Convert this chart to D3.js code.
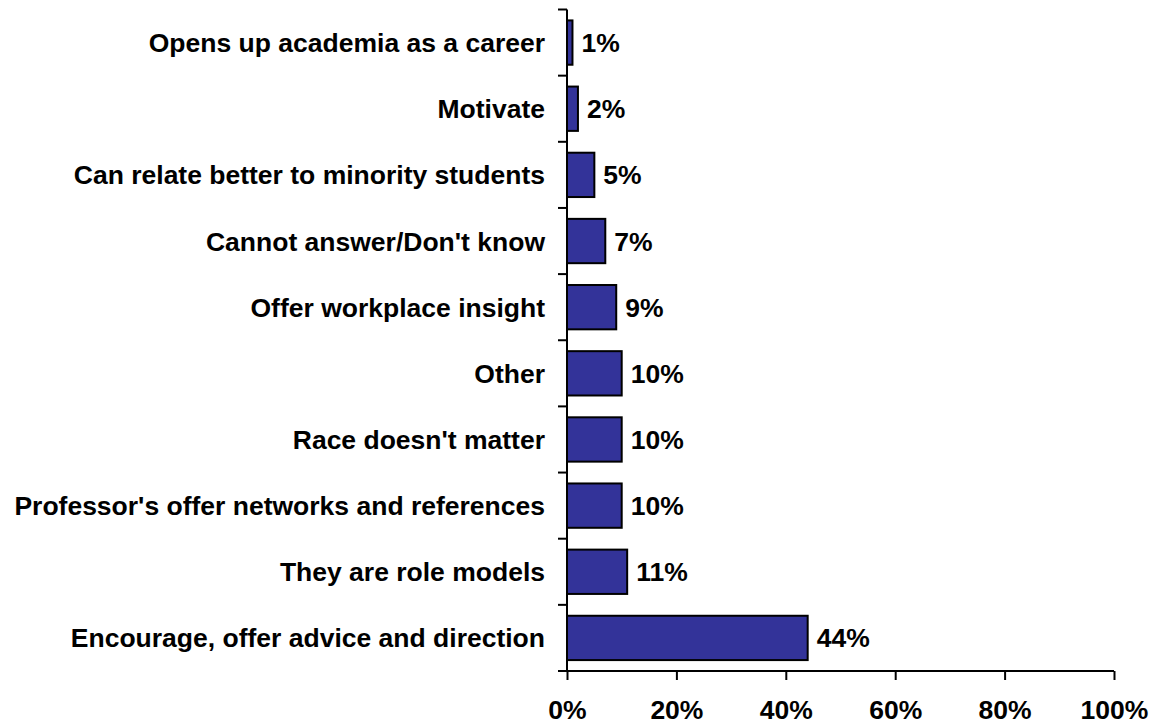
<!DOCTYPE html>
<html>
<head>
<meta charset="utf-8">
<script src="https://cdn.jsdelivr.net/npm/d3@7"></script>
<style>
  html, body { margin: 0; padding: 0; background: #fff; }
  svg { display: block; }
  text { font-family: Arial, "Liberation Sans", sans-serif; font-weight: bold; fill: #000; }
</style>
</head>
<body>
<svg id="chart" width="1156" height="726"></svg>
<script>
// Survey responses, listed top to bottom
const categories = [
  "Opens up academia as a career",
  "Motivate",
  "Can relate better to minority students",
  "Cannot answer/Don't know",
  "Offer workplace insight",
  "Other",
  "Race doesn't matter",
  "Professor's offer networks and references",
  "They are role models",
  "Encourage, offer advice and direction"
];
const values = [1, 2, 5, 7, 9, 10, 10, 10, 11, 44];
const xTicks = [0, 20, 40, 60, 80, 100];

const svg = d3.select("#chart");
const margin = { left: 567, top: 9.5, right: 42, bottom: 55 };
const W = 1156, H = 726;
const plotW = W - margin.left - margin.right;
const plotH = H - margin.top - margin.bottom;

const g = svg.append("g").attr("transform", `translate(${margin.left},${margin.top})`);

const x = d3.scaleLinear().domain([0, 100]).range([0, plotW]);
const y = d3.scaleBand().domain(categories).range([0, plotH]).paddingInner(0.33).paddingOuter(0.165);
const yOuter = d3.scaleBand().domain(categories).range([0, plotH]);

const fontSize = 26.5;

// bars
g.selectAll("rect.bar")
  .data(categories)
  .join("rect")
  .attr("class", "bar")
  .attr("x", 0)
  .attr("y", d => y(d))
  .attr("width", (d, i) => x(values[i]))
  .attr("height", y.bandwidth())
  .attr("fill", "#333399")
  .attr("stroke", "#000")
  .attr("stroke-width", 2);

// value labels
g.selectAll("text.val")
  .data(categories)
  .join("text")
  .attr("class", "val")
  .attr("x", (d, i) => x(values[i]) + 9)
  .attr("y", d => y(d) + y.bandwidth() / 2)
  .attr("dy", "0.36em")
  .style("font-size", fontSize + "px")
  .text((d, i) => values[i] + "%");

// category labels
g.selectAll("text.cat")
  .data(categories)
  .join("text")
  .attr("class", "cat")
  .attr("x", -22)
  .attr("y", d => y(d) + y.bandwidth() / 2)
  .attr("dy", "0.36em")
  .attr("text-anchor", "end")
  .style("font-size", fontSize + "px")
  .text(d => d);

// y axis: line + ticks at category boundaries
const yBounds = categories.map(d => yOuter(d)).concat([plotH]);
g.append("line")
  .attr("x1", 0).attr("x2", 0).attr("y1", 0).attr("y2", plotH)
  .attr("stroke", "#000").attr("stroke-width", 2);
g.selectAll("line.ytick")
  .data(yBounds)
  .join("line")
  .attr("class", "ytick")
  .attr("x1", -9).attr("x2", 0)
  .attr("y1", d => d).attr("y2", d => d)
  .attr("stroke", "#000").attr("stroke-width", 2);

// x axis
const xAxis = d3.axisBottom(x)
  .tickValues(xTicks)
  .tickSize(9)
  .tickPadding(20)
  .tickFormat(d => d + "%");
const xg = g.append("g").attr("transform", `translate(0,${plotH})`).call(xAxis);
xg.select(".domain").attr("stroke", "#000").attr("stroke-width", 2).attr("d", `M0,0H${plotW}`);
xg.selectAll(".tick line").attr("stroke", "#000").attr("stroke-width", 2);
xg.selectAll(".tick text")
  .style("font-size", fontSize + "px")
  .style("font-family", "Arial, 'Liberation Sans', sans-serif")
  .style("font-weight", "bold")
  .attr("fill", "#000");
</script>
</body>
</html>
